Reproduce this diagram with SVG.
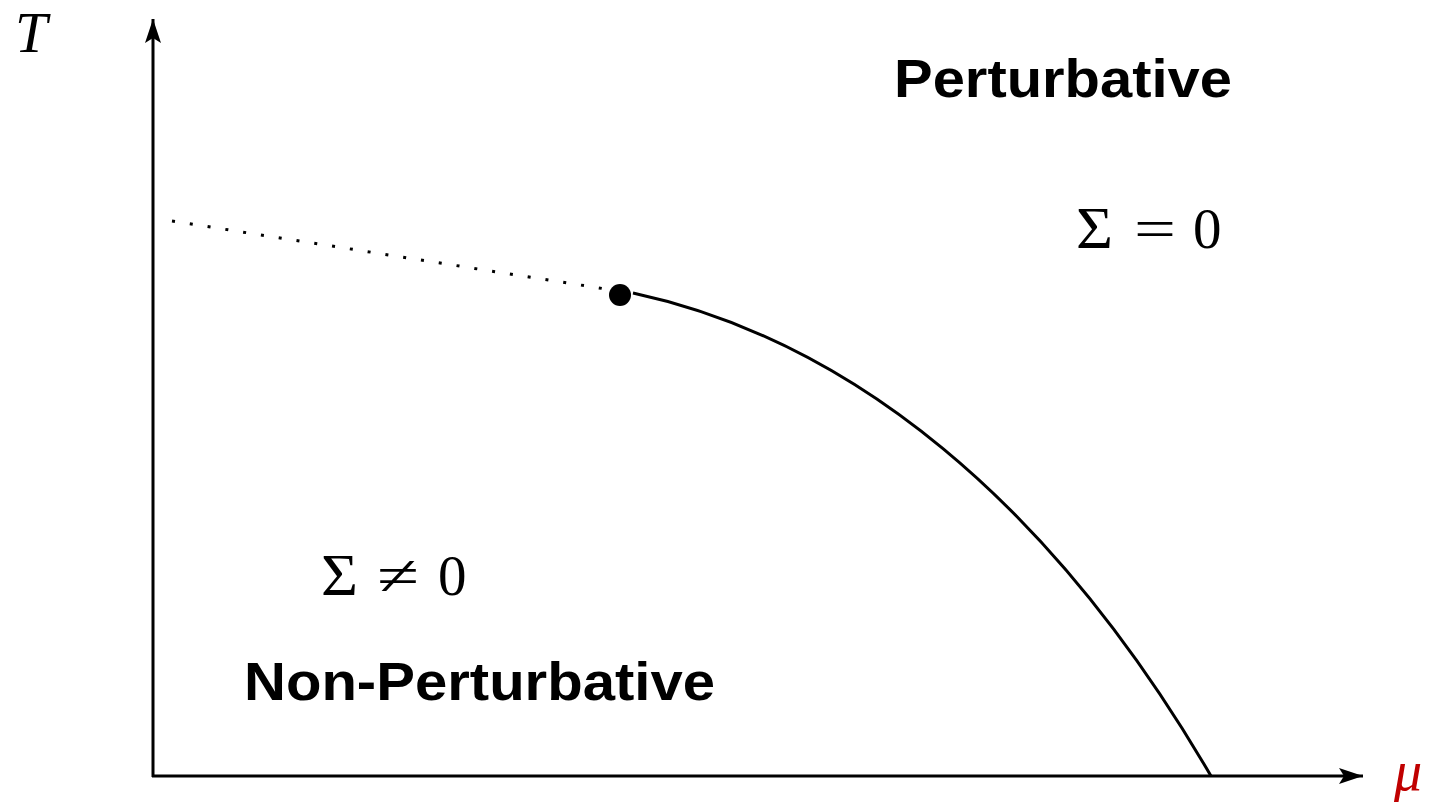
<svg xmlns="http://www.w3.org/2000/svg" width="1434" height="803" viewBox="0 0 1434 803">
<style>
.bold{font-family:"Liberation Sans",Arial,sans-serif;font-weight:bold;font-size:54px;fill:#000}
.math{font-family:"Liberation Serif","DejaVu Serif",serif;font-size:57px;fill:#000}
.sig{font-size:60px}
</style>
<defs>
<marker id="ah" viewBox="0 0 24 16" refX="24" refY="8" markerWidth="24" markerHeight="16" markerUnits="userSpaceOnUse" orient="auto">
<path d="M0,0 L24,8 L0,16 L5,8 Z" fill="#000"/>
</marker>
</defs>
<g id="connectors" fill="none" stroke="#000">
<line id="t-axis" x1="153" y1="777" x2="153" y2="19" stroke-width="3" marker-end="url(#ah)"/>
<line id="mu-axis" x1="152" y1="776" x2="1363" y2="776" stroke-width="3" marker-end="url(#ah)"/>
<line id="crossover" x1="172" y1="221" x2="612" y2="290" stroke-width="3" stroke-dasharray="3 15"/>
<path id="transition" d="M633,293 C850,340 1050,500 1211,776" stroke-width="3"/>
</g>
<g id="critical-point"><circle cx="620" cy="295" r="11" fill="#000"/></g>
<g id="label-T"><text x="15" y="52" font-family="Liberation Serif,serif" font-style="italic" font-size="58">T</text></g>
<g id="label-mu"><text x="1394" y="790" font-family="Liberation Serif,serif" font-style="italic" font-size="56" fill="#c00000">μ</text></g>
<g id="perturbative"><text class="bold" x="894" y="97" textLength="338" lengthAdjust="spacingAndGlyphs">Perturbative</text></g>
<g id="sigma-zero" class="math"><text class="sig" x="1076" y="248" textLength="37" lengthAdjust="spacingAndGlyphs">Σ</text><text x="1134" y="248" textLength="42" lengthAdjust="spacingAndGlyphs">=</text><text x="1193" y="248">0</text></g>
<g id="sigma-nonzero" class="math"><text class="sig" x="321" y="595" textLength="37" lengthAdjust="spacingAndGlyphs">Σ</text><text x="377" y="595" textLength="42" lengthAdjust="spacingAndGlyphs">≠</text><text x="438" y="595">0</text></g>
<g id="non-perturbative"><text class="bold" x="244" y="700" textLength="471" lengthAdjust="spacingAndGlyphs">Non-Perturbative</text></g>
</svg>
